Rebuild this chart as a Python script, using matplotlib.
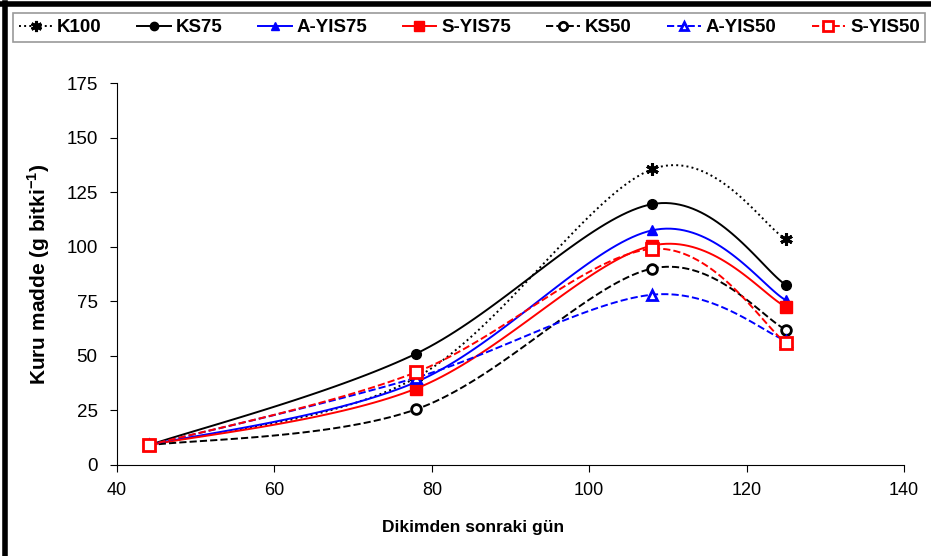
import numpy as np
import matplotlib
matplotlib.use("Agg")
import matplotlib.pyplot as plt
from matplotlib.lines import Line2D

plt.rcParams["font.family"] = ["Liberation Sans", "DejaVu Sans"]

days = [44, 78, 108, 125]

k100 = [9, 40, 135.5, 103.5]
ks75 = [9, 51, 119.5, 82.5]
a_yis75 = [9, 38, 107.5, 75.5]
s_yis75 = [9, 35, 100.5, 72.5]
ks50 = [9, 25.5, 90, 62]
a_yis50 = [9, 40, 78, 57]
s_yis50 = [9, 42.5, 99, 56]


def smooth(x, y, n=40):
    # excel-like smoothed line: catmull-rom as cubic bezier segments
    x = np.asarray(x, float)
    y = np.asarray(y, float)
    px = np.concatenate([[x[0]], x, [x[-1]]])
    py = np.concatenate([[y[0]], y, [y[-1]]])
    xs, ys = [], []
    t = np.linspace(0, 1, n)
    for i in range(1, len(x)):
        p0 = np.array([px[i], py[i]])
        p3 = np.array([px[i + 1], py[i + 1]])
        c1 = p0 + (np.array([px[i + 1], py[i + 1]]) - np.array([px[i - 1], py[i - 1]])) / 6
        c2 = p3 - (np.array([px[i + 2], py[i + 2]]) - np.array([px[i], py[i]])) / 6
        pts = ((1 - t) ** 3)[:, None] * p0 + (3 * (1 - t) ** 2 * t)[:, None] * c1 \
            + (3 * (1 - t) * t ** 2)[:, None] * c2 + (t ** 3)[:, None] * p3
        xs.extend(pts[:, 0])
        ys.extend(pts[:, 1])
    return xs, ys


fig = plt.figure(figsize=(9.31, 5.56), dpi=100)
ax = fig.add_axes([0.1257, 0.1637, 0.8453, 0.687])

series = [
    ("K100", k100, "black", ":", (6, 2, 0), "black", 9, 2.2),
    ("KS75", ks75, "black", "-", "o", "black", 7, 1),
    ("A-YIS75", a_yis75, "#0000ff", "-", "^", "#0000ff", 7, 1),
    ("S-YIS75", s_yis75, "#ff0000", "-", "s", "#ff0000", 8, 1),
    ("KS50", ks50, "black", "--", "o", "none", 7, 2.0),
    ("A-YIS50", a_yis50, "#0000ff", "--", "^", "none", 7, 2.0),
    ("S-YIS50", s_yis50, "#ff0000", "--", "s", "none", 8, 2.0),
]

handles = []
for name, vals, col, ls, mk, fc, ms, mew in series:
    sx, sy = smooth(days, vals)
    ax.plot(sx, sy, color=col, ls=ls, lw=1.4, zorder=2)
    ax.plot(days, vals, ls="none", marker=mk, ms=ms, mfc=fc if fc != "none" else "white",
            mec=col, mew=mew, zorder=3)
    h, = ax.plot([], [], color=col, ls=ls, lw=1.4, marker=mk, ms=ms - 1,
                 mfc=fc if fc != "none" else "white", mec=col, mew=mew)
    handles.append(h)

ax.set_xlim(40, 140)
ax.set_ylim(0, 175)
ax.set_xticks([40, 60, 80, 100, 120, 140])
ax.set_yticks([0, 25, 50, 75, 100, 125, 150, 175])
ax.spines["top"].set_visible(False)
ax.spines["right"].set_visible(False)
ax.tick_params(direction="out", length=5, pad=7)
ax.tick_params(axis="y", labelsize=13.5, pad=9)
ax.tick_params(axis="x", labelsize=13)

ax.set_xlabel("Dikimden sonraki gün", fontsize=12.5, fontweight="bold")
ax.xaxis.set_label_coords(0.453, -0.145)
ax.set_ylabel("Kuru madde (g bitki$^{\\mathregular{-1}}$)", fontsize=15, fontweight="bold", labelpad=10)

leg = fig.legend(handles, [s[0] for s in series], loc="upper left",
                 bbox_to_anchor=(0.014, 0.926, 0.98, 0.05), mode="expand",
                 ncol=7, prop={"weight": "bold", "size": 13.5},
                 handlelength=1.8, handletextpad=0.25, columnspacing=0.3,
                 borderaxespad=0, fancybox=False, frameon=True, borderpad=0.3)
leg.get_frame().set_edgecolor("#808080")
leg.get_frame().set_linewidth(1.2)

# thick frame on top and left edges of the picture
fig.add_artist(Line2D([0.005, 0.005], [0.0, 0.995], transform=fig.transFigure, color="black", lw=4))
fig.add_artist(Line2D([0.0, 1.0], [0.993, 0.993], transform=fig.transFigure, color="black", lw=4))

fig.savefig("out.png", dpi=100)
